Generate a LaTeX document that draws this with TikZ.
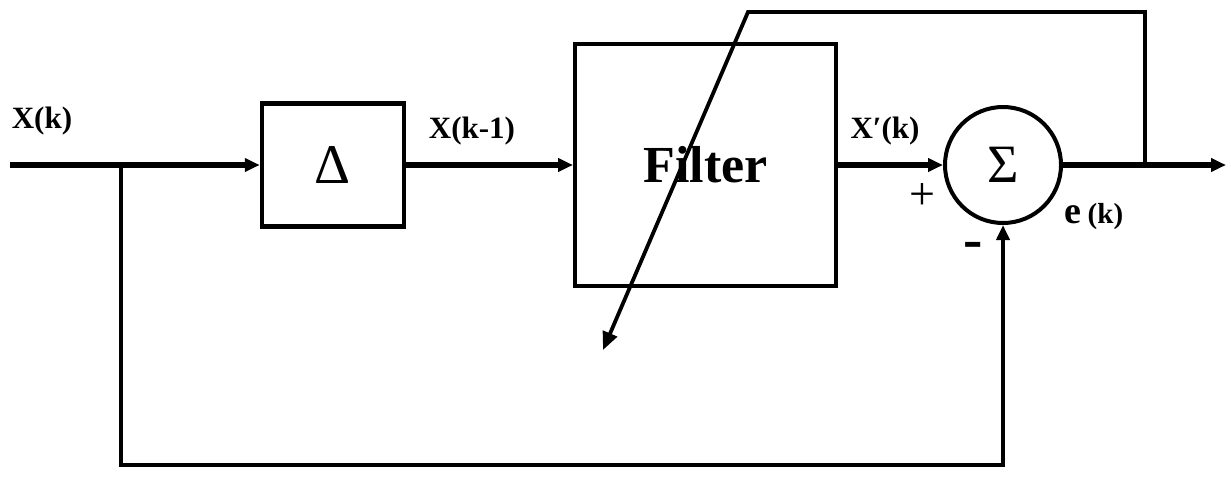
\documentclass[tikz,border=0pt]{standalone}
\usepackage{fontspec}
\setmainfont{Liberation Serif}
\usetikzlibrary{arrows.meta}
\begin{document}
\begin{tikzpicture}[x=1pt,y=-1pt,
  tip/.style={-{Triangle[length=15pt,width=13pt]}},
  bigtip/.style={-{Triangle[length=18pt,width=15pt]}},
  sig/.style={line width=5.5pt,tip},
  fb/.style={line width=3.8pt},
  blk/.style={draw,line width=4.5pt,inner sep=0pt},
  lbl/.style={font=\bfseries\fontsize{31}{33}\selectfont,inner sep=0pt}]
\useasboundingbox (0,0) rectangle (1231,498);
\node[blk,minimum width=142pt,minimum height=123pt] (delta) at (333,165)
  {\fontsize{56}{56}\selectfont Δ};
\node[blk,line width=4pt,minimum width=261pt,minimum height=242pt] (filter) at (705.5,165)
  {\bfseries\fontsize{52}{52}\selectfont Filter};
\node[draw,circle,line width=4pt,minimum size=116pt,inner sep=0pt] (sum) at (1003,165)
  {\fontsize{54}{54}\selectfont Σ};
\coordinate (in) at (10,165);
\coordinate (br1) at (121,165);
\coordinate (bl) at (121,465);
\coordinate (br) at (1003,465);
\coordinate (br2) at (1145,165);
\coordinate (out) at (1226,165);
\coordinate (tr) at (1145,12);
\coordinate (tl) at (748,12);
\coordinate (adapt) at (603,350);
\draw[sig] (in) -- (delta.west);
\draw[sig] (delta.east) -- (filter.west);
\draw[sig] (filter.east) -- (sum.west);
\draw[sig] (sum.east) -- (out);
\draw[fb,tip] (br1) -- (bl) -- (br) -- (sum.south);
\draw[fb,bigtip,line join=miter] (br2) -- (tr) -- (tl) -- (adapt);
\node[lbl] (lx) at (42,121) {X(k)};
\node[lbl] (lx1) at (472,131) {X(k-1)};
\node[lbl] (lxp) at (885,131) {X′(k)};
\node[inner sep=0pt,font=\fontsize{46}{46}\selectfont] (plus) at (922,197) {+};
\node[inner sep=0pt,font=\bfseries\fontsize{58}{58}\selectfont] (minus) at (973,250) {-};
\node[inner sep=0pt,font=\bfseries] (le) at (1094,217) {{\fontsize{38}{38}\selectfont e}\hspace{6pt}{\fontsize{29}{29}\selectfont (k)}};
\end{tikzpicture}
\end{document}
